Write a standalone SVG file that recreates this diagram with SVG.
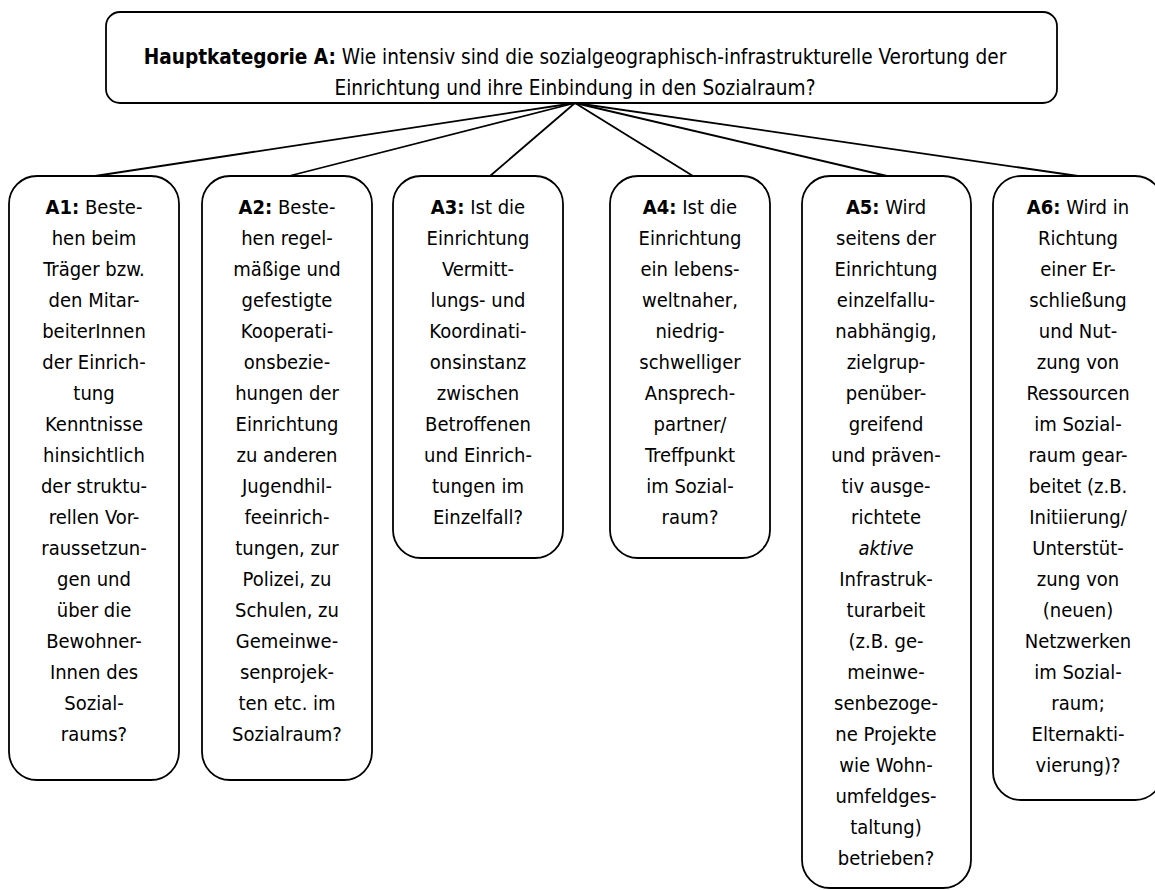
<svg xmlns="http://www.w3.org/2000/svg" width="1155" height="890" viewBox="0 0 1155 890">
<style>
.box{fill:#fff;stroke:#000;stroke-width:1.8}
.ln{stroke:#000;stroke-width:1.8;fill:none}
text{font-family:"DejaVu Sans Condensed","DejaVu Sans",sans-serif;font-size:20px;fill:#000;text-anchor:middle}
.t{font-size:20.6px}
.b{font-weight:bold}
.i{font-style:italic}
</style>
<rect width="1155" height="890" fill="#fff"/>
<g id="connectors">
<line class="ln" x1="575" y1="103" x2="95" y2="176"/>
<line class="ln" x1="575" y1="103" x2="289" y2="176"/>
<line class="ln" x1="575" y1="103" x2="490" y2="176"/>
<line class="ln" x1="575" y1="103" x2="693" y2="176"/>
<line class="ln" x1="575" y1="103" x2="887" y2="176"/>
<line class="ln" x1="575" y1="103" x2="1078" y2="176"/>
</g>
<g id="main">
<rect class="box" x="106" y="12" width="951" height="91" rx="14"/>
<text class="t"><tspan x="575" y="64"><tspan class="b">Hauptkategorie A:</tspan> Wie intensiv sind die sozialgeographisch-infrastrukturelle Verortung der</tspan><tspan x="575" y="95">Einrichtung und ihre Einbindung in den Sozialraum?</tspan></text>
</g>
<g id="A1">
<rect class="box" x="9" y="176" width="170" height="604" rx="28"/>
<text><tspan x="94" y="214"><tspan class="b">A1:</tspan> Beste-</tspan><tspan x="94" y="245">hen beim</tspan><tspan x="94" y="276">Träger bzw.</tspan><tspan x="94" y="307">den Mitar-</tspan><tspan x="94" y="338">beiterInnen</tspan><tspan x="94" y="369">der Einrich-</tspan><tspan x="94" y="400">tung</tspan><tspan x="94" y="431">Kenntnisse</tspan><tspan x="94" y="462">hinsichtlich</tspan><tspan x="94" y="493">der struktu-</tspan><tspan x="94" y="524">rellen Vor-</tspan><tspan x="94" y="555">raussetzun-</tspan><tspan x="94" y="586">gen und</tspan><tspan x="94" y="617">über die</tspan><tspan x="94" y="648">Bewohner-</tspan><tspan x="94" y="679">Innen des</tspan><tspan x="94" y="710">Sozial-</tspan><tspan x="94" y="741">raums?</tspan></text>
</g>
<g id="A2">
<rect class="box" x="202" y="176" width="170" height="604" rx="28"/>
<text><tspan x="287" y="214"><tspan class="b">A2:</tspan> Beste-</tspan><tspan x="287" y="245">hen regel-</tspan><tspan x="287" y="276">mäßige und</tspan><tspan x="287" y="307">gefestigte</tspan><tspan x="287" y="338">Kooperati-</tspan><tspan x="287" y="369">onsbezie-</tspan><tspan x="287" y="400">hungen der</tspan><tspan x="287" y="431">Einrichtung</tspan><tspan x="287" y="462">zu anderen</tspan><tspan x="287" y="493">Jugendhil-</tspan><tspan x="287" y="524">feeinrich-</tspan><tspan x="287" y="555">tungen, zur</tspan><tspan x="287" y="586">Polizei, zu</tspan><tspan x="287" y="617">Schulen, zu</tspan><tspan x="287" y="648">Gemeinwe-</tspan><tspan x="287" y="679">senprojek-</tspan><tspan x="287" y="710">ten etc. im</tspan><tspan x="287" y="741">Sozialraum?</tspan></text>
</g>
<g id="A3">
<rect class="box" x="393" y="176" width="170" height="382" rx="28"/>
<text><tspan x="478" y="214"><tspan class="b">A3:</tspan> Ist die</tspan><tspan x="478" y="245">Einrichtung</tspan><tspan x="478" y="276">Vermitt-</tspan><tspan x="478" y="307">lungs- und</tspan><tspan x="478" y="338">Koordinati-</tspan><tspan x="478" y="369">onsinstanz</tspan><tspan x="478" y="400">zwischen</tspan><tspan x="478" y="431">Betroffenen</tspan><tspan x="478" y="462">und Einrich-</tspan><tspan x="478" y="493">tungen im</tspan><tspan x="478" y="524">Einzelfall?</tspan></text>
</g>
<g id="A4">
<rect class="box" x="610" y="176" width="160" height="382" rx="28"/>
<text><tspan x="690" y="214"><tspan class="b">A4:</tspan> Ist die</tspan><tspan x="690" y="245">Einrichtung</tspan><tspan x="690" y="276">ein lebens-</tspan><tspan x="690" y="307">weltnaher,</tspan><tspan x="690" y="338">niedrig-</tspan><tspan x="690" y="369">schwelliger</tspan><tspan x="690" y="400">Ansprech-</tspan><tspan x="690" y="431">partner/</tspan><tspan x="690" y="462">Treffpunkt</tspan><tspan x="690" y="493">im Sozial-</tspan><tspan x="690" y="524">raum?</tspan></text>
</g>
<g id="A5">
<rect class="box" x="802" y="176" width="169" height="712" rx="28"/>
<text><tspan x="886" y="214"><tspan class="b">A5:</tspan> Wird</tspan><tspan x="886" y="245">seitens der</tspan><tspan x="886" y="276">Einrichtung</tspan><tspan x="886" y="307">einzelfallu-</tspan><tspan x="886" y="338">nabhängig,</tspan><tspan x="886" y="369">zielgrup-</tspan><tspan x="886" y="400">penüber-</tspan><tspan x="886" y="431">greifend</tspan><tspan x="886" y="462">und präven-</tspan><tspan x="886" y="493">tiv ausge-</tspan><tspan x="886" y="524">richtete</tspan><tspan x="886" y="555" class="i">aktive</tspan><tspan x="886" y="586">Infrastruk-</tspan><tspan x="886" y="617">turarbeit</tspan><tspan x="886" y="648">(z.B. ge-</tspan><tspan x="886" y="679">meinwe-</tspan><tspan x="886" y="710">senbezoge-</tspan><tspan x="886" y="741">ne Projekte</tspan><tspan x="886" y="772">wie Wohn-</tspan><tspan x="886" y="803">umfeldges-</tspan><tspan x="886" y="834">taltung)</tspan><tspan x="886" y="865">betrieben?</tspan></text>
</g>
<g id="A6">
<rect class="box" x="993" y="176" width="170" height="624" rx="28"/>
<text><tspan x="1078" y="214"><tspan class="b">A6:</tspan> Wird in</tspan><tspan x="1078" y="245">Richtung</tspan><tspan x="1078" y="276">einer Er-</tspan><tspan x="1078" y="307">schließung</tspan><tspan x="1078" y="338">und Nut-</tspan><tspan x="1078" y="369">zung von</tspan><tspan x="1078" y="400">Ressourcen</tspan><tspan x="1078" y="431">im Sozial-</tspan><tspan x="1078" y="462">raum gear-</tspan><tspan x="1078" y="493">beitet (z.B.</tspan><tspan x="1078" y="524">Initiierung/</tspan><tspan x="1078" y="555">Unterstüt-</tspan><tspan x="1078" y="586">zung von</tspan><tspan x="1078" y="617">(neuen)</tspan><tspan x="1078" y="648">Netzwerken</tspan><tspan x="1078" y="679">im Sozial-</tspan><tspan x="1078" y="710">raum;</tspan><tspan x="1078" y="741">Elternakti-</tspan><tspan x="1078" y="772">vierung)?</tspan></text>
</g>
</svg>
